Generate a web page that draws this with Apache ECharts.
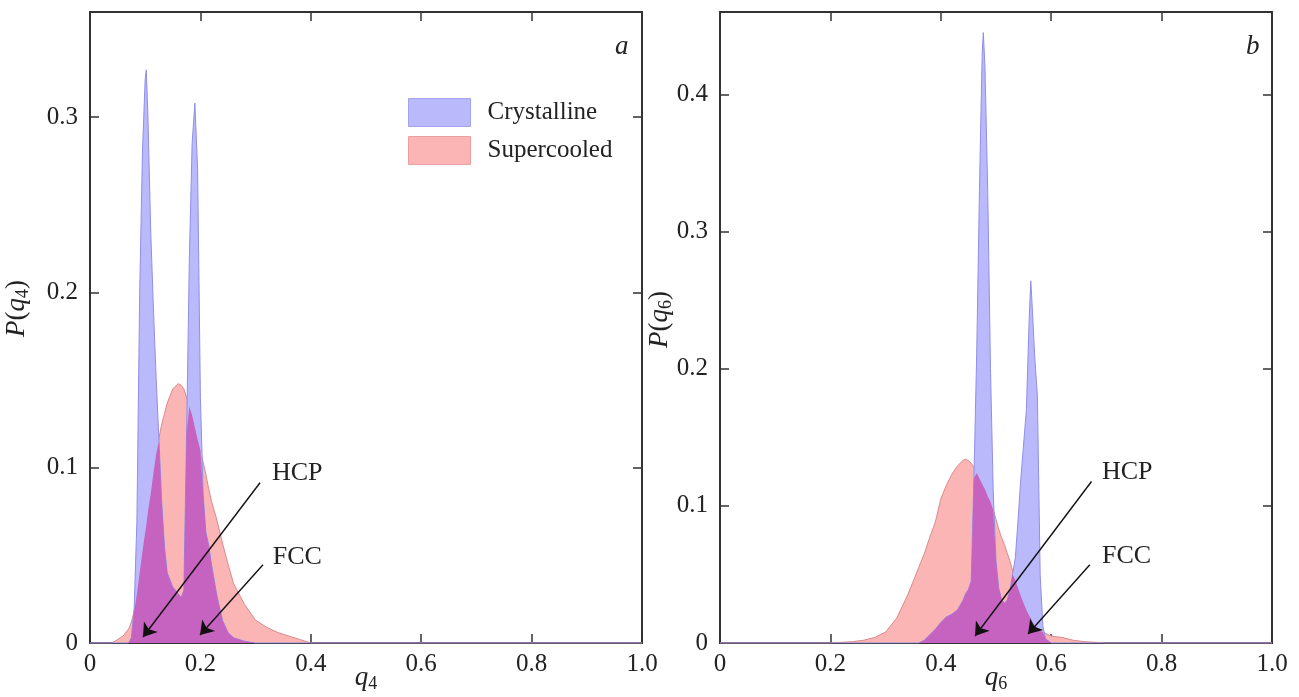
<!DOCTYPE html>
<html>
<head>
<meta charset="utf-8">
<script src="https://cdn.jsdelivr.net/npm/echarts@6/dist/echarts.min.js"></script>
<style>
  html, body { margin: 0; padding: 0; background: #fff; }
  #chart { width: 1299px; height: 697px; }
</style>
</head>
<body>
<div id="chart"></div>
<script>
// panel a: q4 distribution
const q4Grid = [0, 0.04, 0.05, 0.06, 0.07, 0.075, 0.08, 0.085, 0.09, 0.095, 0.1, 0.102, 0.105, 0.11, 0.115, 0.12, 0.125, 0.13, 0.135, 0.14, 0.15, 0.16, 0.165, 0.17, 0.175, 0.18, 0.185, 0.19, 0.195, 0.2, 0.205, 0.21, 0.215, 0.22, 0.23, 0.24, 0.25, 0.26, 0.28, 0.3, 0.32, 0.34, 0.36, 0.38, 0.4, 1.0];
const q4Crystalline = [0, 0, 0, 0, 0, 0.003, 0.02, 0.07, 0.2, 0.28, 0.322, 0.327, 0.3, 0.235, 0.19, 0.15, 0.115, 0.08, 0.055, 0.04, 0.032, 0.028, 0.026, 0.03, 0.12, 0.22, 0.285, 0.308, 0.27, 0.14, 0.085, 0.063, 0.056, 0.045, 0.027, 0.013, 0.006, 0.003, 0.001, 0, 0, 0, 0, 0, 0, 0];
const q4Supercooled = [0, 0, 0.002, 0.004, 0.008, 0.012, 0.018, 0.028, 0.04, 0.052, 0.063, 0.067, 0.075, 0.085, 0.097, 0.108, 0.117, 0.125, 0.131, 0.137, 0.145, 0.148, 0.147, 0.145, 0.14, 0.135, 0.13, 0.123, 0.116, 0.11, 0.103, 0.096, 0.088, 0.081, 0.07, 0.057, 0.045, 0.034, 0.022, 0.013, 0.009, 0.006, 0.004, 0.002, 0, 0];

// panel b: q6 distribution
const q6Grid = [0, 0.2, 0.22, 0.24, 0.26, 0.28, 0.3, 0.32, 0.34, 0.36, 0.37, 0.38, 0.39, 0.4, 0.41, 0.42, 0.43, 0.44, 0.445, 0.45, 0.455, 0.46, 0.465, 0.47, 0.475, 0.477, 0.48, 0.485, 0.49, 0.495, 0.5, 0.505, 0.51, 0.515, 0.52, 0.525, 0.53, 0.535, 0.54, 0.545, 0.55, 0.555, 0.56, 0.563, 0.565, 0.57, 0.575, 0.58, 0.585, 0.59, 0.6, 0.62, 0.64, 0.66, 0.68, 0.7, 1.0];
const q6Crystalline = [0, 0, 0, 0, 0, 0, 0, 0, 0, 0, 0.002, 0.006, 0.01, 0.015, 0.019, 0.021, 0.024, 0.031, 0.036, 0.039, 0.045, 0.12, 0.21, 0.33, 0.43, 0.445, 0.42, 0.33, 0.2, 0.11, 0.06, 0.04, 0.032, 0.029, 0.031, 0.038, 0.05, 0.062, 0.09, 0.12, 0.145, 0.17, 0.235, 0.264, 0.25, 0.21, 0.18, 0.05, 0.012, 0.003, 0, 0, 0, 0, 0, 0, 0];
const q6Supercooled = [0, 0, 0.0005, 0.001, 0.002, 0.004, 0.008, 0.018, 0.035, 0.055, 0.065, 0.077, 0.088, 0.105, 0.115, 0.123, 0.129, 0.133, 0.134, 0.133, 0.131, 0.128, 0.124, 0.12, 0.116, 0.114, 0.112, 0.107, 0.103, 0.097, 0.09, 0.083, 0.077, 0.072, 0.066, 0.06, 0.053, 0.046, 0.04, 0.034, 0.029, 0.024, 0.02, 0.018, 0.016, 0.013, 0.011, 0.009, 0.008, 0.007, 0.005, 0.004, 0.002, 0.001, 0.0005, 0, 0];

// annotations: [label, q, P] and arrows [from, to]
const q4Labels = [['HCP', 0.3297, 0.0971], ['FCC', 0.331, 0.049]];
const q4Arrows = [[[0.308, 0.0914], [0.096, 0.0034]], [[0.3134, 0.0446], [0.1993, 0.0046]]];
const q6Labels = [['HCP', 0.692, 0.1248], ['FCC', 0.692, 0.0635]];
const q6Arrows = [[[0.673, 0.1177], [0.462, 0.0051]], [[0.670, 0.057], [0.558, 0.0066]]];

const FONT = 'Liberation Serif';
const INK = '#222';
const BLUE = '#b9b9fb';
const PINK = '#fbb5b5';
const OVERLAP = '#c662bf';

const chart = echarts.init(document.getElementById('chart'));

const pairs = (xs, ys) => xs.map((x, i) => [x, ys[i]]);
const overlapOf = (xs, a, b) => xs.map((x, i) => [x, Math.min(a[i], b[i])]);

function fmt(v) { return v === 0 ? '0' : v.toFixed(1); }

const nameRich = {
  i: { fontFamily: FONT, fontStyle: 'italic', fontSize: 27, color: INK },
  n: { fontFamily: FONT, fontSize: 27, color: INK },
  s: { fontFamily: FONT, fontSize: 18, color: INK, padding: [12, 0, 0, 0] }
};

function axes(g, ymax, xname, yname, yGap, yShift) {
  const line = { show: true, onZero: false, lineStyle: { color: '#333', width: 2 } };
  const tick = { show: true, inside: true, length: 9, lineStyle: { color: '#333', width: 1.5 } };
  return {
    x: [
      {
        gridIndex: g, type: 'value', min: 0, max: 1, interval: 0.2, position: 'bottom',
        axisLine: line, axisTick: tick, splitLine: { show: false },
        axisLabel: { color: INK, fontFamily: FONT, fontSize: 25, margin: 9, formatter: fmt },
        name: xname, nameLocation: 'middle', nameGap: 20, nameMoveOverlap: false,
        nameTextStyle: { rich: nameRich }
      },
      {
        gridIndex: g, type: 'value', min: 0, max: 1, interval: 0.2, position: 'top',
        axisLine: line, axisTick: tick, splitLine: { show: false }, axisLabel: { show: false }
      }
    ],
    y: [
      {
        gridIndex: g, type: 'value', min: 0, max: ymax, interval: 0.1, position: 'left',
        axisLine: line, axisTick: tick, splitLine: { show: false },
        axisLabel: { color: INK, fontFamily: FONT, fontSize: 25, margin: 12, showMaxLabel: false,
          formatter: v => (v === 0 ? '0' : v.toFixed(1)) },
        name: yname, nameLocation: 'middle', nameGap: yGap, nameRotate: 90, nameMoveOverlap: false,
        nameTextStyle: { rich: nameRich, padding: [0, 0, 0, yShift] }
      },
      {
        gridIndex: g, type: 'value', min: 0, max: ymax, interval: 0.1, position: 'right',
        axisLine: line, axisTick: tick, splitLine: { show: false }, axisLabel: { show: false }
      }
    ]
  };
}

const a = axes(0, 0.36, '{i|q}{s|4}', '{i|P}{n|(}{i|q}{s|4}{n|)}', 58, 38);
const b = axes(1, 0.46, '{i|q}{s|6}', '{i|P}{n|(}{i|q}{s|6}{n|)}', 45, 16);

function panelSeries(g, xs, cryst, superc, labels, arrows) {
  const xi = g * 2, yi = g * 2;
  return [
    {
      name: 'Supercooled', type: 'line', xAxisIndex: xi, yAxisIndex: yi,
      data: pairs(xs, superc), symbol: 'none', smooth: false,
      lineStyle: { color: '#d98a8a', width: 1 },
      itemStyle: { color: PINK },
      areaStyle: { color: PINK, opacity: 1 }, z: 2
    },
    {
      name: 'Crystalline', type: 'line', xAxisIndex: xi, yAxisIndex: yi,
      data: pairs(xs, cryst), symbol: 'none', smooth: false,
      lineStyle: { color: '#8f8fe6', width: 1 },
      itemStyle: { color: BLUE },
      areaStyle: { color: BLUE, opacity: 1 }, z: 3
    },
    {
      name: 'overlap', type: 'line', xAxisIndex: xi, yAxisIndex: yi,
      data: overlapOf(xs, cryst, superc), symbol: 'none', smooth: false,
      lineStyle: { width: 0 },
      itemStyle: { color: OVERLAP },
      areaStyle: { color: OVERLAP, opacity: 1 }, z: 4,
      markLine: {
        silent: true, animation: false,
        symbol: ['none', 'arrow'], symbolSize: 13,
        lineStyle: { color: '#111', width: 1.4, type: 'solid' },
        label: { show: false },
        data: arrows.map(([p, q]) => [{ coord: p }, { coord: q }])
      },
      markPoint: {
        silent: true, animation: false,
        symbol: 'circle', symbolSize: 0,
        label: { show: true, position: 'right', distance: 0, color: INK, fontFamily: FONT, fontSize: 26,
          formatter: p => p.name },
        data: labels.map(([t, x, y]) => ({ name: t, coord: [x, y] }))
      }
    }
  ];
}

chart.setOption({
  backgroundColor: '#fff',
  animation: false,
  title: [
    { text: 'a', left: 610, top: 28, textStyle: { fontFamily: FONT, fontStyle: 'italic', fontWeight: 'normal', fontSize: 27, color: INK } },
    { text: 'b', left: 1241, top: 28, textStyle: { fontFamily: FONT, fontStyle: 'italic', fontWeight: 'normal', fontSize: 27, color: INK } }
  ],
  legend: {
    left: 408, top: 98, orient: 'vertical', padding: 0,
    itemWidth: 62, itemHeight: 28, itemGap: 9, icon: 'rect',
    textStyle: { fontFamily: FONT, fontSize: 25, color: INK, padding: [0, 0, 0, 12] },
    data: [
      { name: 'Crystalline', itemStyle: { color: BLUE, borderColor: '#a3a3ee', borderWidth: 1 } },
      { name: 'Supercooled', itemStyle: { color: PINK, borderColor: '#eaa0a0', borderWidth: 1 } }
    ]
  },
  grid: [
    { left: 90, top: 12, width: 552, height: 631, outerBoundsMode: 'none' },
    { left: 720, top: 12, width: 552, height: 631, outerBoundsMode: 'none' }
  ],
  xAxis: [...a.x, ...b.x],
  yAxis: [...a.y, ...b.y],
  series: [
    ...panelSeries(0, q4Grid, q4Crystalline, q4Supercooled, q4Labels, q4Arrows),
    ...panelSeries(1, q6Grid, q6Crystalline, q6Supercooled, q6Labels, q6Arrows)
  ]
});
</script>
</body>
</html>
